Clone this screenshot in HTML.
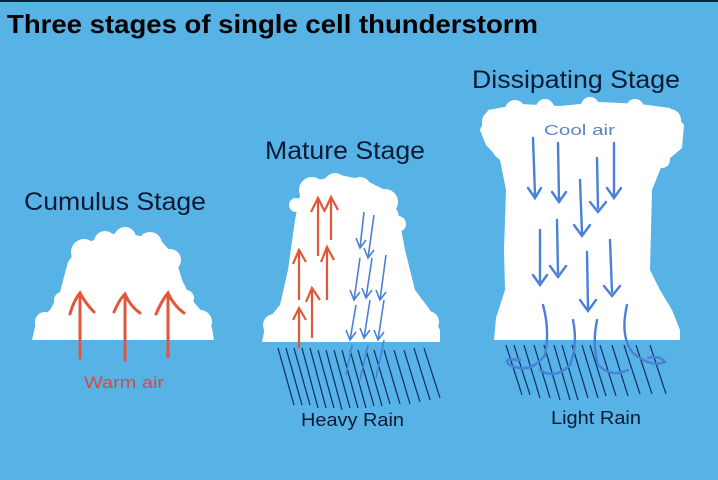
<!DOCTYPE html>
<html><head><style>
html,body{margin:0;padding:0;background:#57b2e6;}
svg{display:block}
text{font-family:"Liberation Sans",sans-serif;}
</style></head><body>
<svg width="718" height="480" viewBox="0 0 718 480" xmlns="http://www.w3.org/2000/svg">
<rect width="718" height="480" fill="#57b2e6"/>
<rect width="718" height="2" fill="#123"/>
<text x="7" y="33" font-size="26" font-weight="bold" fill="#000" textLength="531" lengthAdjust="spacingAndGlyphs">Three stages of single cell thunderstorm</text>
<text x="24" y="210" font-size="25" fill="#0c1a33" textLength="182" lengthAdjust="spacingAndGlyphs">Cumulus Stage</text>
<text x="265" y="159" font-size="25" fill="#0c1a33" textLength="160" lengthAdjust="spacingAndGlyphs">Mature Stage</text>
<text x="472" y="88" font-size="25" fill="#0c1a33" textLength="208" lengthAdjust="spacingAndGlyphs">Dissipating Stage</text>

<g fill="#fff">
<path d="M32,340 L36,322 L50,310 L60,292 L68,262 L80,245 L100,238 L120,232 L140,236 L160,240 L175,256 L182,280 L192,300 L205,315 L212,328 L214,340 Z"/>
<circle cx="84" cy="252" r="13"/><circle cx="105" cy="242" r="11"/><circle cx="125" cy="238" r="11"/><circle cx="150" cy="244" r="12"/><circle cx="170" cy="260" r="11"/>
<circle cx="45" cy="322" r="10"/><circle cx="200" cy="322" r="12"/><circle cx="62" cy="300" r="8"/><circle cx="186" cy="298" r="8"/>
<path d="M262,342 L266,322 L280,305 L288,270 L295,220 L300,195 L318,180 L340,175 L365,180 L385,190 L398,212 L405,250 L415,290 L430,310 L440,330 L440,342 Z"/>
<circle cx="312" cy="190" r="13"/><circle cx="335" cy="184" r="11"/><circle cx="360" cy="188" r="11"/><circle cx="385" cy="202" r="13"/><circle cx="398" cy="224" r="8"/>
<circle cx="274" cy="325" r="11"/><circle cx="428" cy="322" r="11"/><circle cx="296" cy="205" r="7"/>
<path d="M480,130 L488,110 L520,104 L560,106 L600,102 L640,104 L670,108 L684,125 L682,148 L662,165 L652,190 L650,270 L660,290 L672,310 L680,330 L680,340 L494,340 L496,318 L505,290 L504,250 L506,190 L500,160 L486,145 Z"/>
<circle cx="494" cy="122" r="12"/><circle cx="515" cy="110" r="10"/><circle cx="545" cy="108" r="9"/><circle cx="590" cy="106" r="9"/><circle cx="635" cy="108" r="9"/><circle cx="670" cy="120" r="11"/>
<circle cx="502" cy="150" r="9"/><circle cx="662" cy="160" r="8"/>
</g>

<g stroke="#e2563a" stroke-width="3" fill="none" stroke-linecap="round">
<path d="M80,358 L80,296 M70,314 Q74,300 80,293 Q86,304 94,312"/>
<path d="M125,360 L125,297 M114,312 Q119,300 125,294 Q130,306 140,313"/>
<path d="M168,357 L168,296 M156,314 Q162,300 168,293 Q174,306 184,313"/>
</g>
<text x="84" y="388" font-size="17" fill="#cc4d45" textLength="80" lengthAdjust="spacingAndGlyphs">Warm air</text>

<g stroke="#0d2b66" stroke-width="1.2">
<path d="M278,348 L294,405 M286,348 L302,405 M294,348 L310,405 M302,348 L318,408 M310,348 L326,408 M318,350 L334,408 M326,350 L342,410 M334,350 L350,408 M342,350 L358,408 M350,350 L366,408 M358,350 L374,406 M366,350 L382,406 M374,350 L390,404 M384,350 L400,404 M394,350 L410,404 M404,350 L420,402 M414,348 L430,400 M424,348 L440,398"/>
</g>
<g stroke="#e2563a" stroke-width="2.2" fill="none">
<path d="M299,348 L299,310 M293,320 L299,308 L306,320"/>
<path d="M312,338 L312,290 M306,302 L312,288 L320,300"/>
<path d="M299,300 L299,252 M293,264 L299,250 L306,262"/>
<path d="M327,300 L327,248 M321,262 L327,247 L334,260"/>
<path d="M318,256 L318,198 M311,212 L318,198 L325,212"/>
<path d="M331,240 L331,198 M325,210 L331,197 L338,210"/>
</g>
<g stroke="#4a80d6" stroke-width="1.6" fill="none">
<path d="M364,212 L360,248 M356,238 L360,248 L366,240"/>
<path d="M374,215 L368,258 M364,248 L368,258 L374,250"/>
<path d="M386,255 L380,300 M376,290 L380,300 L386,292"/>
<path d="M372,258 L366,298 M362,288 L366,298 L372,290"/>
<path d="M360,258 L354,300 M350,290 L354,300 L360,292"/>
<path d="M384,300 L378,340 M374,330 L378,340 L384,332"/>
<path d="M370,300 L364,338 M360,328 L364,338 L370,330"/>
<path d="M356,305 L350,340 M346,330 L350,340 L356,332"/>
<path d="M352,345 L346,375 M368,345 L360,380 M384,340 L376,378"/>
</g>
<text x="301" y="426" font-size="18" fill="#0c1a33" textLength="103" lengthAdjust="spacingAndGlyphs">Heavy Rain</text>

<g stroke="#0d2b66" stroke-width="1.2">
<path d="M506,345 L522,395 M514,345 L530,395 M524,345 L540,398 M534,345 L550,398 M544,345 L560,400 M554,345 L570,400 M562,345 L578,400 M572,345 L588,398 M582,345 L598,398 M590,345 L606,396 M600,345 L616,396 M612,345 L628,396 M624,345 L640,394 M636,345 L652,394 M650,345 L666,394"/>
</g>
<g stroke="#4a80d6" stroke-width="2.4" fill="none" stroke-linecap="round">
<path d="M533,138 L535,195 M528,188 L535,198 L541,188"/>
<path d="M558,143 L559,200 M552,192 L559,202 L566,192"/>
<path d="M597,158 L598,208 M590,202 L598,212 L606,202"/>
<path d="M614,143 L614,196 M607,188 L614,198 L621,188"/>
<path d="M580,180 L582,233 M574,225 L582,236 L590,225"/>
<path d="M540,230 L540,282 M533,275 L540,285 L547,275"/>
<path d="M557,220 L558,273 M550,266 L558,277 L566,266"/>
<path d="M587,252 L588,308 M580,300 L588,311 L596,300"/>
<path d="M610,240 L612,292 M604,286 L612,296 L620,286"/>
<path d="M543,305 Q550,330 545,355 Q530,375 510,365 Q500,358 520,360"/>
<path d="M573,320 Q578,345 570,365 Q555,380 540,370"/>
<path d="M597,320 Q592,345 598,365 Q612,378 628,370"/>
<path d="M627,305 Q620,335 632,352 Q650,368 665,362 Q660,355 648,358"/>
</g>
<text x="544" y="135" font-size="15" fill="#5b86c4" textLength="71" lengthAdjust="spacingAndGlyphs">Cool air</text>
<text x="551" y="424" font-size="18" fill="#0c1a33" textLength="90" lengthAdjust="spacingAndGlyphs">Light Rain</text>
</svg>
</body></html>
